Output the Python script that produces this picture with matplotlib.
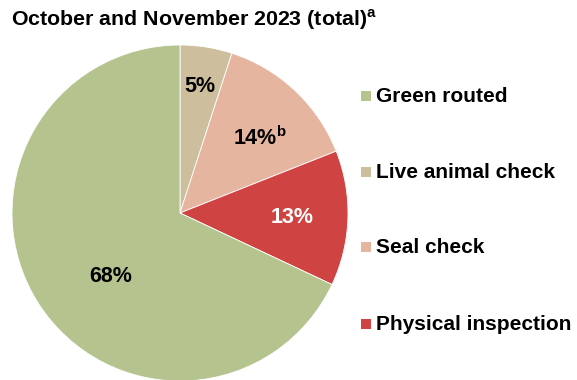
import numpy as np
import matplotlib.pyplot as plt
from matplotlib.patches import Rectangle

plt.rcParams['font.family'] = ['Liberation Sans', 'DejaVu Sans']
plt.rcParams['font.weight'] = 'bold'

# data, legend order
categories = ['Green routed', 'Live animal check', 'Seal check', 'Physical inspection']
shares = [68, 5, 14, 13]
value_labels = ['68%', '5%', '14%$^{\\mathregular{b}}$', '13%']
colors = ['#b5c48f', '#cdbe9e', '#e6b5a0', '#d04343']
text_colors = ['black', 'black', 'black', 'white']
# label placement (radius, angle shift from wedge middle in degrees)
label_radius = [0.583, 0.73, 0.625, 0.669]
label_shift = [12.4, -0.4, -6.4, -3.3]

W, H = 577, 380
fig = plt.figure(figsize=(W / 100, H / 100), dpi=100)
R = 168
cx, cy = 180, 213
ax = fig.add_axes([(cx - R) / W, (H - cy - R) / H, 2 * R / W, 2 * R / H])

# drawn clockwise from top: live, seal, physical, then green
order = [1, 2, 3, 0]
wedges, _ = ax.pie([shares[i] for i in order], colors=[colors[i] for i in order],
                   startangle=90, counterclock=False,
                   wedgeprops=dict(edgecolor='white', linewidth=0.6))
ax.set_aspect('equal')
ax.set_xlim(-1, 1)
ax.set_ylim(-1, 1)

for w, i in zip(wedges, order):
    mid = np.deg2rad((w.theta1 + w.theta2) / 2 + label_shift[i])
    r = label_radius[i]
    ax.text(r * np.cos(mid), r * np.sin(mid), value_labels[i], ha='center', va='baseline',
            fontsize=15.5, fontweight='bold', color=text_colors[i])

fig.text(11 / W, 1 - 26 / H, 'October and November 2023 (total)$^{\\mathregular{a}}$',
         ha='left', va='baseline', fontsize=15.4, fontweight='bold')

# legend drawn by hand to match the row spacing
baselines = [102, 178, 253, 330]
for name, c, b in zip(categories, colors, baselines):
    fig.patches.append(Rectangle((361 / W, 1 - (b - 1) / H), 10 / W, 10 / H,
                                 transform=fig.transFigure, facecolor=c, edgecolor='none'))
    fig.text(376 / W, 1 - b / H, name, ha='left', va='baseline',
             fontsize=15, fontweight='bold')

fig.savefig('out.png', dpi=100)
